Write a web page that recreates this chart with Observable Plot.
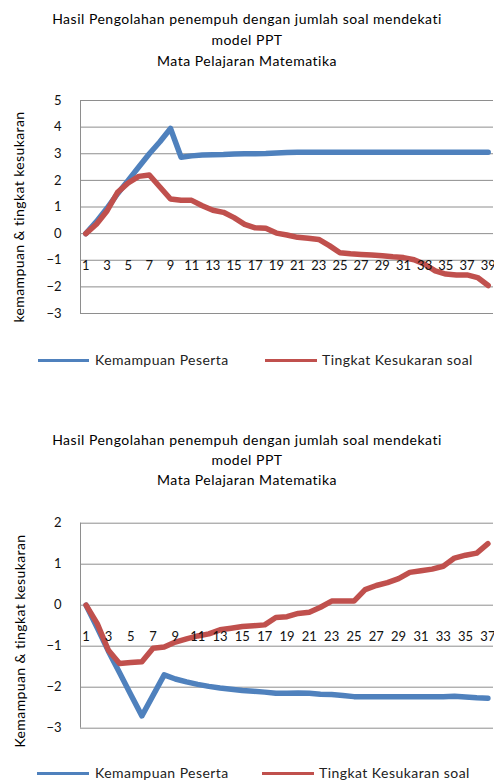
<!DOCTYPE html>
<html>
<head>
<meta charset="utf-8">
<script src="https://cdn.jsdelivr.net/npm/d3@7"></script>
<script src="https://cdn.jsdelivr.net/npm/@observablehq/plot@0.6"></script>
<style>
  html, body { margin: 0; padding: 0; background: #fff; }
  #root { position: relative; width: 494px; height: 782px; overflow: hidden; font-family: Lato, "Open Sans", sans-serif; color: #000; }
  .title { position: absolute; left: 0; width: 494px; text-align: center; font-size: 14px; letter-spacing: 0.5px; }
  .ytitle { position: absolute; white-space: nowrap; font-size: 14px; letter-spacing: 0.4px; transform: translate(-50%, -50%) rotate(-90deg); }
  .chart { position: absolute; left: 0; }
  .legend { position: absolute; left: 0; width: 494px; height: 16px; font-size: 14px; letter-spacing: 0.45px; }
  .legend .sw { position: absolute; height: 3px; }
  .legend .lb { position: absolute; line-height: 16px; top: -8px; white-space: nowrap; color: #222; }
</style>
</head>
<body>
<div id="root"></div>
<script>
// ---------- Data ----------
const chartTitleLines = ["Hasil Pengolahan penempuh dengan jumlah soal mendekati", "model PPT", "Mata Pelajaran Matematika"];
const seriesNames = ["Kemampuan Peserta", "Tingkat Kesukaran soal"];
const seriesColors = ["#4F81BD", "#C0504D"];

// Chart 1
const yTitle1 = "kemampuan & tingkat kesukaran";
const categories1 = [1,2,3,4,5,6,7,8,9,10,11,12,13,14,15,16,17,18,19,20,21,22,23,24,25,26,27,28,29,30,31,32,33,34,35,36,37,38,39];
const xLabels1 = [1,3,5,7,9,11,13,15,17,19,21,23,25,27,29,31,33,35,37,39];
const yTicks1 = [-3,-2,-1,0,1,2,3,4,5];
const kemampuan1 = [0,0.45,0.95,1.5,2.0,2.5,3.0,3.45,3.95,2.87,2.92,2.95,2.96,2.97,2.99,3.0,3.0,3.01,3.03,3.05,3.06,3.06,3.06,3.06,3.06,3.06,3.06,3.06,3.06,3.06,3.06,3.06,3.06,3.06,3.06,3.06,3.06,3.06,3.06];
const tingkat1 = [0,0.35,0.85,1.55,1.9,2.15,2.2,1.75,1.3,1.25,1.25,1.05,0.88,0.8,0.6,0.35,0.22,0.2,0.02,-0.05,-0.14,-0.17,-0.22,-0.45,-0.72,-0.76,-0.78,-0.8,-0.83,-0.87,-0.9,-0.98,-1.15,-1.4,-1.52,-1.55,-1.55,-1.65,-1.95];

// Chart 2
const yTitle2 = "Kemampuan & tingkat kesukaran";
const categories2 = [1,2,3,4,5,6,7,8,9,10,11,12,13,14,15,16,17,18,19,20,21,22,23,24,25,26,27,28,29,30,31,32,33,34,35,36,37];
const xLabels2 = [1,3,5,7,9,11,13,15,17,19,21,23,25,27,29,31,33,35,37];
const yTicks2 = [-3,-2,-1,0,1,2];
const kemampuan2 = [0,-0.55,-1.12,-1.65,-2.18,-2.7,-2.2,-1.7,-1.8,-1.87,-1.93,-1.98,-2.02,-2.05,-2.08,-2.1,-2.12,-2.15,-2.15,-2.14,-2.15,-2.17,-2.18,-2.2,-2.23,-2.23,-2.23,-2.23,-2.23,-2.23,-2.23,-2.23,-2.23,-2.22,-2.24,-2.26,-2.27];
const tingkat2 = [0,-0.45,-1.1,-1.42,-1.4,-1.38,-1.05,-1.02,-0.9,-0.82,-0.75,-0.7,-0.6,-0.56,-0.52,-0.5,-0.48,-0.3,-0.28,-0.2,-0.17,-0.05,0.1,0.1,0.1,0.38,0.48,0.55,0.65,0.8,0.84,0.88,0.95,1.15,1.22,1.27,1.5];

// ---------- Drawing ----------
const root = document.getElementById("root");

function makeChart({categories, xLabels, yTicks, s1, s2, marginTop, marginBottom}) {
  const xDomain = [categories[0] - 0.5, categories[categories.length - 1] + 0.5];
  const yDomain = [yTicks[0], yTicks[yTicks.length - 1]];
  const rows1 = categories.map((c, i) => ({x: c, y: s1[i]}));
  const rows2 = categories.map((c, i) => ({x: c, y: s2[i]}));
  const gridColor = "#8e8e8e";
  return Plot.plot({
    width: 494,
    height: 245,
    marginLeft: 80,
    marginRight: 1,
    marginTop,
    marginBottom,
    style: {fontFamily: "Lato, sans-serif", fontSize: "12px", color: "#000", background: "transparent", overflow: "visible"},
    x: {domain: xDomain, axis: null},
    y: {domain: yDomain, axis: null},
    marks: [
      Plot.gridY(yTicks, {stroke: gridColor, strokeOpacity: 1, strokeWidth: 1}),
      Plot.ruleX([xDomain[0]], {stroke: gridColor, strokeWidth: 1}),
      Plot.line(rows1, {x: "x", y: "y", stroke: seriesColors[0], strokeWidth: 5.5, strokeLinejoin: "round", strokeLinecap: "round"}),
      Plot.line(rows2, {x: "x", y: "y", stroke: seriesColors[1], strokeWidth: 5.5, strokeLinejoin: "round", strokeLinecap: "round"}),
      Plot.text(xLabels, {x: d => d, y: () => 0, text: d => String(d), dy: 32, fontSize: 13, fill: "#111"}),
      Plot.axisY(yTicks, {tickSize: 0, tickPadding: 19, fontSize: 13, label: null, fill: "#111"})
    ]
  });
}

function addDiv(cls, styleObj, text) {
  const d = document.createElement("div");
  d.className = cls;
  Object.assign(d.style, styleObj);
  if (text != null) d.textContent = text;
  root.appendChild(d);
  return d;
}

function addTitle(top, lineHeight) {
  const t = addDiv("title", {top: top + "px", lineHeight: lineHeight + "px"});
  chartTitleLines.forEach(line => {
    const l = document.createElement("div");
    l.textContent = line;
    t.appendChild(l);
  });
}

function addLegend(top, positions) {
  const lg = addDiv("legend", {top: top + "px"});
  seriesNames.forEach((name, i) => {
    const p = positions[i];
    const sw = document.createElement("div");
    sw.className = "sw";
    Object.assign(sw.style, {left: p.x0 + "px", width: (p.x1 - p.x0) + "px", top: "-1px", background: seriesColors[i]});
    lg.appendChild(sw);
    const lb = document.createElement("div");
    lb.className = "lb";
    lb.style.left = p.tx + "px";
    lb.textContent = name;
    lg.appendChild(lb);
  });
}

// Chart 1
addTitle(8, 21);
const c1 = makeChart({categories: categories1, xLabels: xLabels1, yTicks: yTicks1, s1: kemampuan1, s2: tingkat1, marginTop: 15, marginBottom: 17});
c1.classList.add("chart");
c1.style.position = "absolute";
c1.style.top = "85px";
root.appendChild(c1);
addDiv("ytitle", {left: "18px", top: "217px"}, yTitle1);
addLegend(360, [{x0: 38, x1: 89, tx: 95}, {x0: 265, x1: 317, tx: 322}]);

// Chart 2
addTitle(430, 20);
const c2 = makeChart({categories: categories2, xLabels: xLabels2, yTicks: yTicks2, s1: kemampuan2, s2: tingkat2, marginTop: 22.7, marginBottom: 17.3});
c2.classList.add("chart");
c2.style.position = "absolute";
c2.style.top = "500px";
root.appendChild(c2);
addDiv("ytitle", {left: "19px", top: "641px"}, yTitle2);
addLegend(773, [{x0: 37, x1: 89, tx: 95}, {x0: 262, x1: 314, tx: 319}]);
</script>
</body>
</html>
